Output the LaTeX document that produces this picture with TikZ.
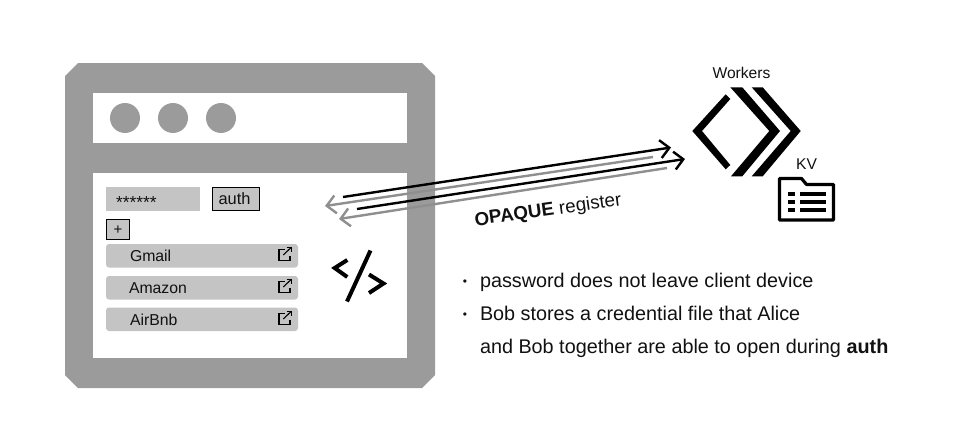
\documentclass[tikz,border=0pt]{standalone}
\usepackage{fontspec}
\setmainfont{Liberation Sans}
\usetikzlibrary{arrows.meta,positioning}
\definecolor{frame}{HTML}{9B9B9B}
\definecolor{field}{HTML}{C4C4C4}
\definecolor{ink}{HTML}{111111}
\definecolor{back}{HTML}{8F8F8F}
\tikzset{
  every node/.style={inner sep=0pt,outer sep=0pt,text=ink},
  dotc/.style={circle,fill=frame,minimum size=30pt},
  inputbox/.style={fill=field,anchor=north west},
  edged/.style={fill=field,draw=black,line width=0.9pt,anchor=north west},
  rowbox/.style={fill=field,rounded corners=3pt,anchor=north west,minimum width=192pt,minimum height=23.5pt},
  rowtext/.style={font=\fontsize{15.8}{17}\selectfont,anchor=base west},
  smalltext/.style={font=\fontsize{15.6}{17}\selectfont},
  listtext/.style={font=\fontsize{19.8}{22}\selectfont,anchor=base west},
  bul/.style={font=\fontsize{12}{14}\selectfont},
  fwd/.style={draw=black,line width=2.4pt,-{Straight Barb[length=9pt,width=18pt,line width=2.4pt]}},
  bwd/.style={draw=back,line width=2.4pt,-{Straight Barb[length=9pt,width=18pt,line width=2.4pt]}},
  glyph/.style={draw=black,line width=4pt,miter limit=10},
  extlink/.pic={
    \draw[black,line width=1.1pt] (6,1.5) -- (0.5,1.5) -- (0.5,12.7) -- (11.5,12.7) -- (11.5,7.5);
    \draw[black,line width=1.1pt] (4.8,7) -- (12.8,-0.7);
    \draw[black,line width=1.1pt] (8.2,-0.7) -- (13,-0.7) -- (13,4);
  }
}
\begin{document}
\begin{tikzpicture}[x=1pt,y=-1pt]
\useasboundingbox (0,0) rectangle (961,447);
% window frame
\fill[frame] (78,63) -- (422,63) -- (435,76) -- (435,375) -- (422,388) -- (78,388) -- (65,375) -- (65,76) -- cycle;
\fill[white] (93,93) rectangle (407,143);
\fill[white] (93,173) rectangle (407,358);
\node[dotc] (d1) at (125,118) {};
\node[dotc] (d2) at (173,118) {};
\node[dotc] (d3) at (221,118) {};
% form
\node[inputbox,minimum width=94pt,minimum height=24pt] (pw) at (106,187) {};
\node[font=\fontsize{17.4}{18}\selectfont,anchor=base west] (pwt) at (116,208.5) {******};
\node[edged,minimum width=47pt,minimum height=23pt] (auth) at (212.5,187.5) {};
\node[font=\fontsize{16.4}{18}\selectfont,anchor=base] (autht) at (234.5,204) {auth};
\node[edged,minimum width=23pt,minimum height=20pt] (plus) at (106.5,219) {};
\node[font=\fontsize{15}{16}\selectfont,anchor=base] (plust) at (118,234) {+};
\node[rowbox] (r1) at (106,244) {};
\node[rowbox] (r2) at (106,276) {};
\node[rowbox] (r3) at (106,307.5) {};
\node[rowtext] (t1) at (130,261) {Gmail};
\node[rowtext] (t2) at (129,293) {Amazon};
\node[rowtext] (t3) at (130,325) {AirBnb};
\pic at (278.5,248) {extlink};
\pic at (278.5,280) {extlink};
\pic at (278.5,312) {extlink};
% code glyph
\draw[glyph] (347.3,260) -- (334.7,268) -- (347.3,277);
\draw[glyph] (370.5,250.5) -- (347,301.5);
\draw[glyph] (369,274.5) -- (383.5,283.5) -- (369,293);
% arrows
\coordinate (a1s) at (343,197);
\coordinate (a1e) at (671,147.5);
\coordinate (a2s) at (357,209);
\coordinate (a2e) at (685,159);
\coordinate (b1s) at (653,157);
\coordinate (b1e) at (325,206);
\coordinate (b2s) at (667,168);
\coordinate (b2e) at (339,219);
\draw[bwd] (b1s) -- (b1e);
\draw[bwd] (b2s) -- (b2e);
\draw[fwd] (a1s) -- (a1e);
\draw[fwd] (a2s) -- (a2e);
\node[font=\fontsize{18.8}{20}\selectfont,rotate=8,anchor=base west] (op) at (475.5,226) {\textbf{OPAQUE} register};
% workers
\node[smalltext] (wk) at (741.5,73) {Workers};
\fill[black] (725.7,94.3) -- (730.3,99) -- (702,131) -- (730.3,165) -- (725.7,169.3) -- (692.3,131) -- cycle;
\fill[black] (730.3,87.3) -- (742.3,87.3) -- (780,131) -- (742.3,176.3) -- (731,176.3) -- (769.3,131) -- cycle;
\fill[black] (751.7,87.3) -- (762.7,87.3) -- (800.7,131) -- (762.7,176.3) -- (751.7,176.3) -- (790.7,131) -- cycle;
% KV
\node[smalltext] (kv) at (806.5,164) {KV};
\draw[black,line width=3.2pt,line join=round] (779.5,178.5) -- (801.5,178.5) -- (806.5,184.5) -- (833.5,184.5) -- (833.5,220) -- (779.5,220) -- cycle;
\foreach \y in {191.7,200,208.3}{
  \fill[black] (788,\y) rectangle ++(7,4);
  \fill[black] (800,\y) rectangle ++(25.7,4);
}
% list
\node[bul] (l0) at (465,282.5) {•};
\node[listtext] (l1) at (480,287) {password does not leave client device};
\node[bul] (l2b) at (465,315.5) {•};
\node[listtext] (l2) at (480,320) {Bob stores a credential file that Alice};
\node[listtext] (l3) at (480,353) {and Bob together are able to open during \textbf{auth}};
\end{tikzpicture}
\end{document}
